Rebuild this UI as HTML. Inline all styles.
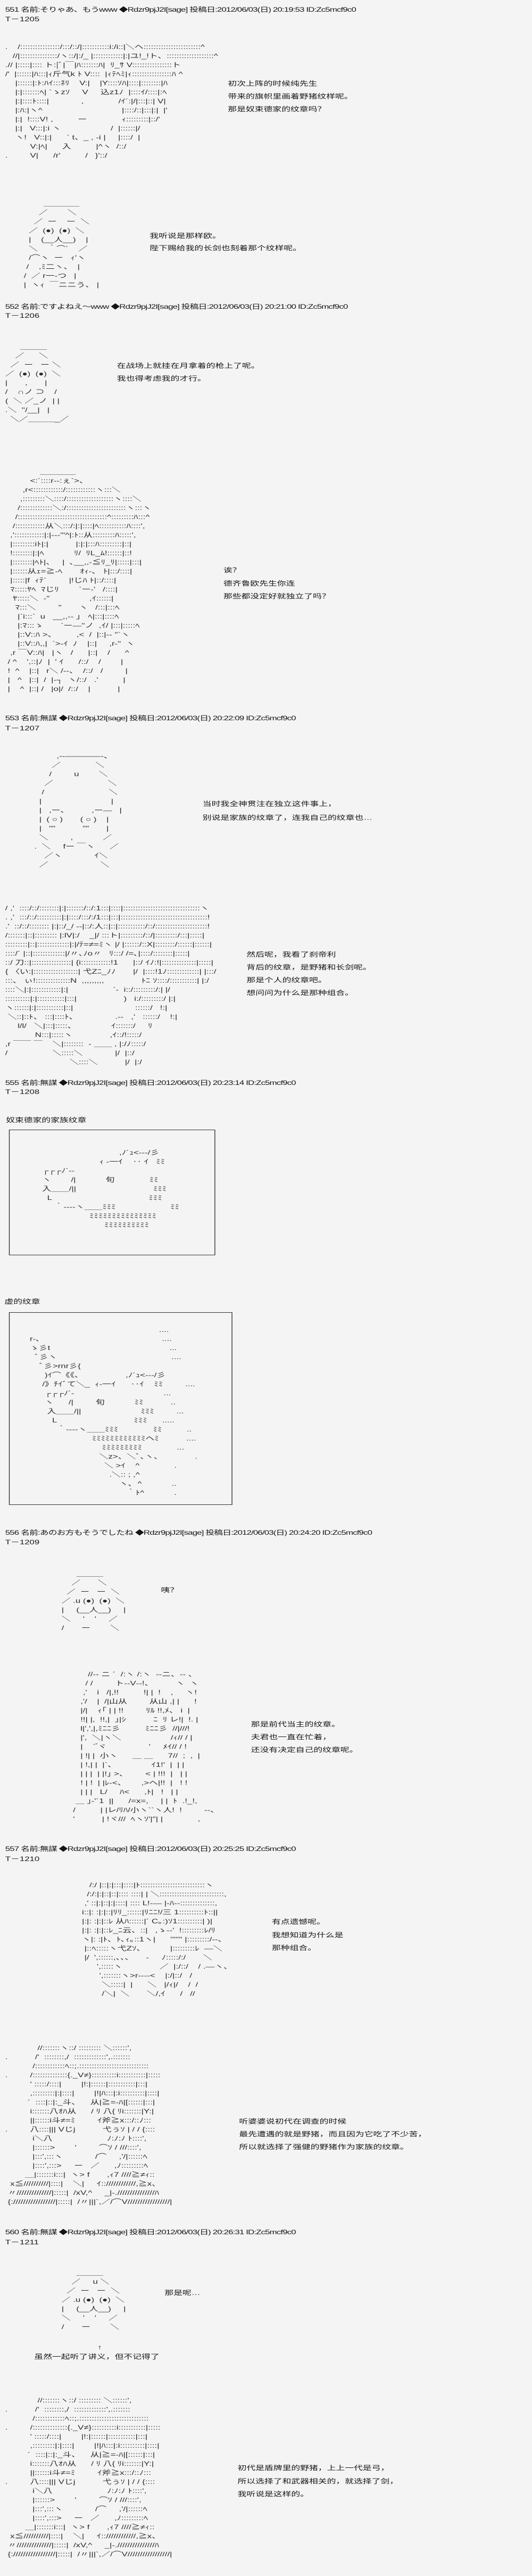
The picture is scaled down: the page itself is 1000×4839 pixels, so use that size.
<!DOCTYPE html>
<html><head><meta charset="utf-8">
<style>
html,body{margin:0;padding:0;background:#f4f4f4;}
body{width:1000px;height:4839px;overflow:hidden;position:relative;}
#c{position:absolute;left:0;top:0;width:715px;height:4839px;transform:scaleX(1.4);transform-origin:0 0;
font-family:"Liberation Sans","Noto Sans CJK SC","Noto Sans CJK JP",sans-serif;color:#151515;}
.a{position:absolute;white-space:pre;font-size:12px;line-height:16px;}
.h{letter-spacing:-0.6px;}
pre{position:absolute;margin:0;font-family:"Liberation Sans","Noto Sans CJK JP",sans-serif;font-size:12px;line-height:17px;color:#2a2a2a;white-space:pre;}
.box{position:absolute;border:1px solid #333;}
</style></head><body><div id="c">

<div class="a h" style="left:7px;top:10px">551 名前:そりゃあ、もうwww ◆Rdzr9pjJ2I[sage] 投稿日:2012/06/03(日) 20:19:53 ID:Zc5mcf9c0</div>
<div class="a" style="left:7px;top:28px">T－1205</div>

<pre style="left:7px;top:80px">.    /::::::::::::::::/:::/::/|:::::::::::i:/i::|＼ヘ:::::::::::::::::::::::^
   //|:::::::::::::::/ヽ::/|:/_ |::::::::::::|:|ユ!_!ト、:::::::::::::::::::^
.// |:::::|:::: ト:|ﾞ|￣|ﾊ:::::::ﾊ|  ﾘ_ｻ V::::::::::::::::ト
/'  |::::::|ﾊ:::|ｨ斤气k ﾄ V::::  |ｨﾃﾍﾐ|ｨ::::::::::::::::ﾊ ^
    |::::::|:ﾄ:ﾊｲ:::ﾈﾘ    V:|    |Y::::ｿﾊ|::::|::::::::|ﾊ
    |:|:::::::ﾍ| `ゝzｿ     V     込z1ﾉ  |::::ｲ/::::|:ﾍ
    |:|::::ﾄ::::|             ,              /ｲ´:|/|:::|::| V|
    |:ﾊ:|ヽ^                                |::::/::|:::|:|  |'
    |:|  !::::V! ,          ー              ｨ:::::::::|::/'
    |:|   V:::|:i ヽ                    /  |::::::|/
    ヽ!   V::|:|      ` t、_ , -i |     |::::/  |
          V:|ﾍ|      入          |^ヽ  /::/
.         V|      /r'          /   }'::/</pre>
<div class="a" style="left:306px;top:145px;line-height:24px">初次上阵的时候纯先生
带来的旗帜里画着野猪纹样呢。
那是奴束德家的纹章吗？</div>

<pre style="left:32px;top:374px">        ＿＿＿＿
      ／        ＼
    ／  ー    ー  ＼
  ／  (●)  (●)  ＼
  |    (__人__)    |
  ＼    ｀⌒´    ／
  /⌒ヽ  ー   ｨ'ヽ
 /    ,ﾐ二ヽ、  |
/  ／ r一‐つ   |
|  ヽｨ  ￣ニニう、 |</pre>
<div class="a" style="left:201px;top:432px;line-height:23px">我听说是那样欧。
陛下赐给我的长剑也刻着那个纹样呢。</div>

<div class="a h" style="left:7px;top:568px">552 名前:ですよねえ～www ◆Rdzr9pjJ2I[sage] 投稿日:2012/06/03(日) 20:21:00 ID:Zc5mcf9c0</div>
<div class="a" style="left:7px;top:585px">T－1206</div>

<pre style="left:7px;top:643px">      ＿＿＿
    ／      ＼
  ／  ー   ー ＼
／  (●)  (●)  ＼
|       ,       |
/    ∩ノ ⊃    /
(  ＼ ／_ノ  | |
.＼  ''/__|   |
  ＼／＿＿＿_／</pre>
<div class="a" style="left:157px;top:675px;line-height:24px">在战场上就挂在月拿着的枪上了呢。
我也得考虑我的才行。</div>

<pre style="left:7px;top:878px">              ＿＿＿＿
          <:´::::r‐-:ぇ`>、
       ,r<::::::::::::/::::::::::::ヽ:::＼
      ,:::::::::＼::::/:::::::::::::::::::ヽ::::＼
     /:::::::::::::＼:/::::::::::::::::::::::::ヽ:::ヽ
    /::::::::::::::::::::::::::::::::::::^:::::::::ﾊ:::^
   /::::::::::::从＼:::/:|:|::::|ﾍ:::::::::::ﾊ::::',
  ,'::::::::::::|:|‐-‐'"^|:ﾄ::从:::::::::ﾊ:::::',
  |:::::::::iﾄ|:|           |:|:|:::ﾊ:::::::::|::|
  !::::::::|:|ﾍ            ﾘ/  ﾘL_ﾑ!::::::|::!
  |::::::::|ﾍﾄ|、   |  ､__,,-≦ﾘ_ﾘ|:::::|:::|
  |::::::从ｪ=≧-ﾍ       ｵｨ-、 ﾄ|:::/::::|
  |:::::|f  ｨﾃ`         |!じﾊ ﾄ|::/::::|
  ﾏ:::::ﾔﾍ  ﾏじﾘ        `ー-'   /::::|
   ﾔ:::::＼  ‐"                ,ｲ::::::|
    ﾏ:::＼         "       ヽ   /:::|:::ﾍ
     |`i:::`  u   __,,-‐ ｣   ﾍ|:::|::::ﾍ
     |:ﾏ:::ゝ       `ー―''ノ  ,ｲ/ |:::|:::::ﾍ
     |::V::ﾊ >、        ,<  /  |::|‐‐ "`ヽ
     |::V::ﾊ,,|  `>-ｲ  ﾉ    |::|     ,r‐"  ヽ
  ,r ￣V::ﾊ|   |ヽ   /      |::|    /      ^
 / ^    ',::|ﾉ  |  ' ｲ      /::/    /        |
 !  ^    |::|   r＼ /‐-、  /::/   /         |
 |   ^   |::|  /  |-┐  ヽ/::/   .'          |
 |    ^  |::| /   |o|/  /::/    |           |</pre>
<div class="a" style="left:300px;top:1059px;line-height:24.5px">诶？
德齐鲁欧先生你连
那些都没定好就独立了吗？</div>

<div class="a h" style="left:7px;top:1341px">553 名前:無謀 ◆Rdzr9pjJ2I[sage] 投稿日:2012/06/03(日) 20:22:09 ID:Zc5mcf9c0</div>
<div class="a" style="left:7px;top:1360px">T－1207</div>

<pre style="left:46px;top:1412px">         ,-‐――――-、
       ／              ＼
      /         u        ＼
    ／                      ＼
   /                          ＼
  |                            |
  |   ,ー、         ,ー―   |
  |  ( ○ )       ( ○ )    |
  |   ""           ""       |
  ＼         ,            ／
.  ＼     fー ￣ヽ      ／
    ／ヽ             ｲ＼
  ／                     ＼</pre>
<div class="a" style="left:272px;top:1497px;line-height:26px">当时我全神贯注在独立这件事上，
别说是家族的纹章了，连我自己的纹章也…</div>

<pre style="left:7px;top:1698px">/ ,'  ::::/::/::::::::|:|:::::::/::/:1:::|::::|:::::::::::::::::::::::::::::::ヽ
. ,'  :::/::/::::::::::|:|::::/:::/:/1:::|:::|:::::::::::::::::::::::::::::::::::!
.'  ::/::/:::::::: |:|::/_/ ‐-|::/:人::|::|:::::::::::/::/:::::::::::::::::::::!
/:::::::|::|::::::::: |:lV|:/    _|/ :::ト|:::::::::/::/|:::::::::/:::|:::::|
:::::::::|::|:::::::::::::|:|/ﾃ=≠=ﾐヽ |/ |::::::/::X|::::::::/::::::|::::::|
::::/´ |::|:::::::::::::|/〃､ﾉo〃   ﾘ:::/ /=､|::::/::::::::|:::::|
::/ 刀::|::::::::::::::::| {i::::::::::::!1      |::/ ｲﾉ:!|::::::::::::::|:::::|
{ 〈い:|::::::::::::::::::| 弋Zﾆ_ﾉﾉ       |/  |::::!1ﾉ:::::::::::::| |:::/
:::、 ぃ!::::::::::::::N  ,,,,,,,,,               ﾄﾆ ｿ::::/:::::::::::| |:/
::::＼|:|::::::::::::|:|                  `‐  i::/:::::::::/:| |/
::::::::::|:|:::::::::::|:::|                   )   i:/:::::::::/ |:|
ヽ::::::|:|:::::::::::|::|                         ::::::/   !:|
 ＼::|::ﾄ、 :::|::::ﾄ、               .‐-   ,'   ::::::/    !:|
     l/l/   ＼|:::|:::::、              ｲ:::::::/     ﾘ
            N:::|:::::ヽ               ,ｲ::/!:::::/
,r ￣￣ ￣    ＼|::::::::  - ＿＿ , |:/ﾉ:::::/
/                  ＼:::::＼             |/  |::/
                          ＼::::＼           |/  |:/</pre>
<div class="a" style="left:331px;top:1781px;line-height:24px">然后呢，我看了刹帝利
背后的纹章，是野猪和长剑呢。
那是个人的纹章吧。
想问问为什么是那种组合。</div>

<div class="a h" style="left:7px;top:2026px">555 名前:無謀 ◆Rdzr9pjJ2I[sage] 投稿日:2012/06/03(日) 20:23:14 ID:Zc5mcf9c0</div>
<div class="a" style="left:7px;top:2043px">T－1208</div>

<div class="a" style="left:8px;top:2096px">奴束德家的家族纹章</div>
<div class="box" style="left:12px;top:2122px;width:275px;height:234px"></div>
<pre style="left:40px;top:2157px">                                    ,ﾉ´ｭ<‐-‐/彡
                            ｨ ‐一ｲ    ‥ ｲ   ﾐﾐ
     ┌┌┌ﾉ´‐‐
     ヽ        /|            旬              ﾐﾐ
     入＿＿/||                               ﾐﾐﾐ
       L                                       ﾐﾐﾐ
          ｀‐‐‐‐ヽ＿＿ﾐﾐﾐ                      ﾐﾐ
                        ﾐﾐﾐﾐﾐﾐﾐﾐﾐﾐﾐﾐﾐﾐﾐ
                              ﾐﾐﾐﾐﾐﾐﾐﾐﾐﾐ</pre>

<div class="a" style="left:6px;top:2437px">虚的纹章</div>
<div class="box" style="left:12px;top:2465px;width:298px;height:360px"></div>
<pre style="left:30px;top:2490px">                                                       ....
   r‐､                                                 ....
   ゝ彡t                                                ...
     ﾞ彡ヽ                                              ....
       ﾞ彡>rnr彡{
         )ｲ⌒《《、                 ,ﾉ´ｭ<‐-‐/彡
        /》ﾁｲﾞて＼_  ｨ‐一ｲ      ‥ｲ    ﾐﾐ         ....
         ┌┌┌ﾉ´‐                                    ...
         ヽ      /|         旬            ﾐﾐ           ..
          入＿＿/||                        ﾐﾐﾐ         ...
            L                               ﾐﾐﾐ      .....
              ｀‐‐‐‐ヽ＿＿ﾐﾐﾐ              ﾐﾐ          ..
                            ﾐﾐﾐﾐﾐﾐﾐﾐﾐﾐﾐﾐヘﾐ           ....
                                ﾐﾐﾐﾐﾐﾐﾐﾐﾐ              ...
                               ＼z>、＼ﾞ､ヽ、             .
                                 ＼ >ｲ    ^              .
                                   .＼:: ; ,^
                                       ヽ､  ^            ..
                                          ｀ﾄ^            .</pre>

<div class="a h" style="left:7px;top:2871px">556 名前:あのお方もそうでしたね ◆Rdzr9pjJ2I[sage] 投稿日:2012/06/03(日) 20:24:20 ID:Zc5mcf9c0</div>
<div class="a" style="left:7px;top:2889px">T－1209</div>

<pre style="left:76px;top:2948px">        ＿＿＿
      ／       ＼
    ／  ー   ー  ＼
  ／ .u (●)  (●)  ＼
  |     (__人__)     |
  ＼     '    '     ／
  /       ー        ＼</pre>
<div class="a" style="left:216px;top:2979px">咦？</div>

<pre style="left:98px;top:3137px">      //‐- ニ ´  /:ヽ /:ヽ  ‐‐ニ、‐‐ 、
     / /         ト‐-V‐-!、         ヽ  ヽ
    ,'    i   /|,!!          !| |  !    ,     ヽ!
   ,'/    |  /|山从         从山 ,| |      !
   |/|    ｨ｢ | | !!         ﾘﾙ !!,ﾒ、 i  |
   !!| |,  !!,|  ｣|ｼ           ﾆ  ﾘ レ!|  !. |
   l|',',|,ﾐﾆﾆ彡          ﾐﾆﾆ彡  //|///!
   |',  ＼|ヽ＼                    /ｨ// / |
   |    ` ゙ヾ                 '     ﾒｲ// / !
   | !| |  小ヽ      ＿ ＿      7//  ;  ,  |
   | !,| |  |`、              ｲ1!'  |  | |
   | | |  | |!｣ >、       < | !!!  |   | |
   ! | !  | |ﾚ‐<、      ,>ヘ|!!  |   ! !
   | | |   L/     ﾊ<      ,ﾄ|   !   | |
 ＿ ｣‐'´1  ||      /=x=,     | |  ﾄ  .!_!,
/          | |レ/ﾘﾊ/小ヽ``ヽ人!  !         ‐‐、
'           | !ヾ///  ﾍヽｿ'|"| |              ,</pre>
<div class="a" style="left:337px;top:3227px;line-height:24px">那是前代当主的纹章。
夫君也一直在忙着，
还没有决定自己的纹章呢。</div>

<div class="a h" style="left:7px;top:3465px">557 名前:無謀 ◆Rdzr9pjJ2I[sage] 投稿日:2012/06/03(日) 20:25:25 ID:Zc5mcf9c0</div>
<div class="a" style="left:7px;top:3484px">T－1210</div>

<pre style="left:100px;top:3533px">      /:/ |::|:|:::|::::|ﾄ::::::::::::::::::::::::::ヽ
     /:/:|:|::|::|:::: ::::| | ＼::::::::::::::::::::::::::,
    ,' ::|:|::|:|::::| :::: L!‐― |‐ﾊ‐‐::::::::::::::,
   i::|: :|:|::|ﾘﾘ_::::::|ﾘﾆﾆ!/三 1::::::::::ﾄ::||
   |:|: :|:|::ﾚ 从ﾊ::::::|´ C｡:)ｿ1::::::::::| )|
   |:|: :|:|::ﾚ_ﾆ云、::|   ,ゝ-‐'  !:::::::::ﾚ/ﾘ
   ヽ|: :|ﾄ、ﾄ､ｨ｡::1ヽ|      ''''''' |:::::::::/‐‐、
    |::ﾍ:::::ヽ弋Zｿ、          |:::::::::ﾚ  ―＼
    |/  ',::::::,、、、     -     ﾉ:::::/:/       ＼
         ',:::::ヽ               ／  |:/::/    / .―ヽ、
          ',:::::::ヽ>r‐‐‐‐<    |:/|::/   /
           ＼:::::|  |      ＼   |/ｨ|/    /  /
           /＼|  ＼       ＼/,ｲ      /   //</pre>
<div class="a" style="left:365px;top:3598px;line-height:24.5px">有点遗憾呢。
我想知道为什么是
那种组合。</div>

<pre style="left:7px;top:3839px">             //:::::::ヽ::/ ::::::::: ＼::::::',
.           /'  ::::::::,/  :::::::::::::',.:::::::
           /::::::::::::ﾍ::;.::::::::::::::::::::::::::::
.         /::::::::::::::{._V≠}::::::::::i:::::::::::|:::::
          ' :::::/::::|        |!:|::::::|:::::::::::|:::|
          ,:::::::::|:|::::|        |!|ﾊ:::|:i::::::::::|::::|
         ´  ::::|::|:_斗、    从|≧=‐ﾊ|[::::::|:::|
          i:::::::八ｵﾊ从      / ﾘ 八{ ﾘi:::::::|Y:|
          ||::::::i斗≠=ﾐ         ｲ斧≧x:::/::ﾉ:::
.         八::::||| Vじj           弋ぅｿ | / / {::::
           i＼八                      ﾉ:ﾉ:ﾉ ﾄ::::',
           |::::::>        '         ⌒ｿ / ///::::',
           |:::',:::ヽ             /⌒     ,'/|::::::ﾍ
           |::::',:::>     ー   ／      ,ﾉ:::::::::ﾍ
        ＿|:::::::i:::|  ヽ> f       ,ｨ7 ////≧≠ｨ::
  x≦//////////|::::|    ＼|     ｲ::////////////,≧x、
 〃//////////////|:::::|  /xV,^     _|‐.///////////////ﾊ
 {://///////////////|:::::|  /〃|||`,／/⌒V/////////////////|</pre>
<div class="a" style="left:321px;top:3973px;line-height:24px">听婆婆说初代在调查的时候
最先遭遇的就是野猪，而且因为它吃了不少苦，
所以就选择了强健的野猪作为家族的纹章。</div>

<div class="a h" style="left:7px;top:4185px">560 名前:無謀 ◆Rdzr9pjJ2I[sage] 投稿日:2012/06/03(日) 20:26:31 ID:Zc5mcf9c0</div>
<div class="a" style="left:7px;top:4204px">T－1211</div>

<pre style="left:76px;top:4261px">        ＿＿＿
      ／     u ＼
    ／  ー   ー  ＼
  ／ .u (●)  (●)  ＼
  |     (__人__)     |
  ＼     '    '     ／
  /       ー        ＼</pre>
<div class="a" style="left:221px;top:4299px">那是呢…</div>
<div class="a" style="left:131px;top:4401px">↑</div>
<div class="a" style="left:46px;top:4419px">虽然一起听了讲义，但不记得了</div>

<pre style="left:7px;top:4501px">             //:::::::ヽ::/ ::::::::: ＼::::::',
.           /'  ::::::::,/  :::::::::::::',.:::::::
           /::::::::::::ﾍ::;.::::::::::::::::::::::::::::
.         /::::::::::::::{._V≠}::::::::::i:::::::::::|:::::
          ' :::::/::::|        |!:|::::::|:::::::::::|:::|
          ,:::::::::|:|::::|        |!|ﾊ:::|:i::::::::::|::::|
         ´  ::::|::|:_斗、    从|≧=‐ﾊ|[::::::|:::|
          i:::::::八ｵﾊ从      / ﾘ 八{ ﾘi:::::::|Y:|
          ||::::::i斗≠=ﾐ         ｲ斧≧x:::/::ﾉ:::
.         八::::||| Vじj           弋ぅｿ | / / {::::
           i＼八                      ﾉ:ﾉ:ﾉ ﾄ::::',
           |::::::>        '         ⌒ｿ / ///::::',
           |:::',:::ヽ             /⌒     ,'/|::::::ﾍ
           |::::',:::>     ー   ／      ,ﾉ:::::::::ﾍ
        ＿|:::::::i:::|  ヽ> f       ,ｨ7 ////≧≠ｨ::
  x≦//////////|::::|    ＼|     ｲ::////////////,≧x、
 〃//////////////|:::::|  /xV,^     _|‐.///////////////ﾊ
 {://///////////////|:::::|  /〃|||`,／/⌒V/////////////////|</pre>
<div class="a" style="left:319px;top:4624px;line-height:24.5px">初代是盾牌里的野猪，上上一代是弓，
所以选择了和武器相关的，就选择了剑，
我听说是这样的。</div>

</div></body></html>
